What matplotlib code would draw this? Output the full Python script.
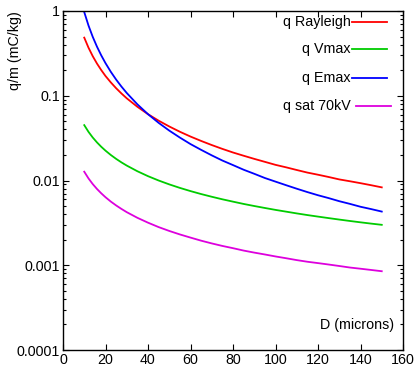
import matplotlib
matplotlib.use("Agg")
from matplotlib import pyplot as plt
from matplotlib.ticker import FixedLocator, FuncFormatter, LogLocator, NullFormatter

plt.rcParams['font.family'] = ['Liberation Sans', 'DejaVu Sans']

# droplet diameter (microns)
diam = [10, 12, 14, 16, 18, 20, 22.5, 25, 27.5, 30, 35, 40, 45, 50, 55, 60, 65, 70, 75, 80,
        85, 90, 95, 100, 105, 110, 115, 120, 125, 130, 135, 140, 145, 150]

# charge to mass ratio (mC/kg)
q_rayleigh = [0.485, 0.369, 0.2928, 0.2396, 0.2008, 0.171, 0.1437, 0.1227, 0.1064, 0.0933,
              0.0741, 0.0606, 0.0508, 0.0434, 0.0376,
              0.0330, 0.0293, 0.0262, 0.0236, 0.0214, 0.0196, 0.0180, 0.0166, 0.0153, 0.0143,
              0.0133, 0.0124, 0.0117, 0.0110, 0.0103, 0.0098, 0.0093, 0.0088, 0.0083]
q_vmax = [0.045, 0.0375, 0.03214, 0.02813, 0.025, 0.0225, 0.020, 0.018, 0.01636, 0.015,
          0.01286, 0.01125, 0.0100, 0.0090, 0.00818,
          0.0075, 0.00692, 0.00643, 0.0060, 0.00563, 0.00529, 0.0050, 0.00474, 0.0045, 0.00429,
          0.00409, 0.00391, 0.00375, 0.0036, 0.00346, 0.00333, 0.00321, 0.0031, 0.0030]
q_emax = [0.97, 0.6736, 0.4949, 0.3789, 0.2994, 0.2425, 0.1916, 0.1552, 0.1283, 0.1078,
          0.0792, 0.0606, 0.0479, 0.0388, 0.0321,
          0.0269, 0.0230, 0.0198, 0.0172, 0.0152, 0.0134, 0.0120, 0.0107, 0.0097, 0.0088,
          0.0080, 0.0073, 0.0067, 0.0062, 0.0057, 0.0053, 0.0049, 0.0046, 0.0043]
q_sat = [0.0127, 0.01058, 0.00907, 0.00794, 0.00706, 0.00635, 0.00564, 0.00508, 0.00462, 0.00423,
         0.00363, 0.00318, 0.00282, 0.00254, 0.00231,
         0.00212, 0.00195, 0.00181, 0.00169, 0.00159, 0.00149, 0.00141, 0.00134, 0.00127, 0.00121,
         0.00115, 0.0011, 0.00106, 0.00102, 0.00098, 0.00094, 0.00091, 0.00088, 0.00085]

labels = ["q Rayleigh", "q Vmax", "q Emax", "q sat 70kV"]
colors = ["#ff0000", "#00cc00", "#0000ff", "#dd00dd"]
series = [q_rayleigh, q_vmax, q_emax, q_sat]

fs = 10.3

fig = plt.figure(figsize=(4.17, 3.74), dpi=100)
ax = fig.add_axes([63/417, 24/374, 340/417, 339/374])

for ys, c in zip(series, colors):
    ax.plot(diam, ys, color=c, lw=1.3)

ax.set_yscale("log")
ax.set_xlim(0, 160)
ax.set_ylim(0.0001, 1)
ax.xaxis.set_major_locator(FixedLocator(range(0, 161, 20)))
ax.yaxis.set_major_locator(FixedLocator([0.0001, 0.001, 0.01, 0.1, 1]))
ax.yaxis.set_major_formatter(FuncFormatter(lambda v, p: "%g" % v if v >= 0.001 else "0.0001"))
ax.yaxis.set_minor_locator(LogLocator(base=10, subs=range(2, 10)))
ax.yaxis.set_minor_formatter(NullFormatter())
ax.tick_params(which="both", direction="in", top=True, right=True, labelsize=fs, width=0.8)
ax.tick_params(which="major", length=4.5, pad=2)
ax.tick_params(which="minor", length=2.5)
for s in ax.spines.values():
    s.set_linewidth(1.0)

# gnuplot puts the y label near the top
ax.set_ylabel("q/m (mC/kg)", fontsize=fs, va="center", ha="center")
ax.yaxis.set_label_coords((15 - 63) / 340.0, (374 - 24 - 51) / 339.0)
ax.text(0.975, 0.075, "D (microns)", transform=ax.transAxes, ha="right", va="center", fontsize=fs)

# gnuplot style key: text then line sample
key_y = [21.7, 49.3, 77.7, 106]
for lab, c, yk in zip(labels, colors, key_y):
    ya = (374 - 24 - yk) / 339.0
    ax.text((351 - 63) / 340.0, ya, lab, transform=ax.transAxes, ha="right", va="center", fontsize=fs)
    x0 = (352 - 63) / 340.0 if lab != "q sat 70kV" else (356 - 63) / 340.0
    x1 = (387 - 63) / 340.0 if lab != "q sat 70kV" else (391 - 63) / 340.0
    ax.plot([x0, x1], [ya, ya], color=c, lw=1.3, transform=ax.transAxes)

fig.savefig("out.png", dpi=100)
